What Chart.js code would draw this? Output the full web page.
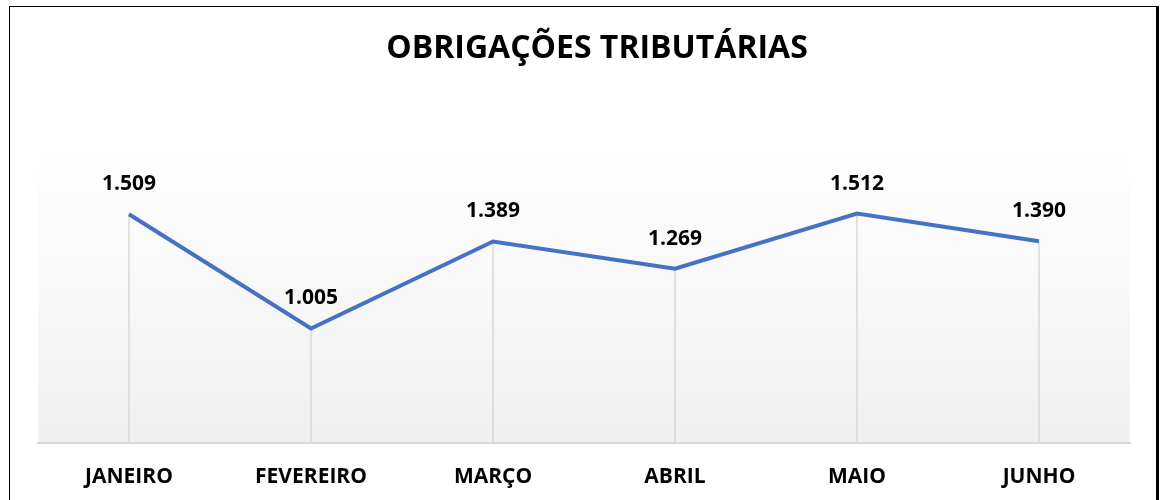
<!DOCTYPE html>
<html>
<head>
<meta charset="utf-8">
<title>Obrigações Tributárias</title>
<script src="https://cdn.jsdelivr.net/npm/chart.js@4.4.1/dist/chart.umd.min.js"></script>
<style>
	html, body { margin: 0; padding: 0; background: #fff; overflow: hidden; }
	/* canvas is a bit taller than the window; the bottom of the frame falls outside, as in the original */
	#wrap { position: absolute; left: 0; top: 0; width: 1163px; height: 500px; overflow: hidden; }
	#frame {
		position: absolute; left: 9px; top: 6px; width: 1146px; height: 520px;
		border-left: 1px solid #000; border-top: 1px solid #000; border-right: 3px solid #000;
		pointer-events: none;
	}
</style>
</head>
<body>
<div id="wrap">
	<canvas id="lineChart" width="1163" height="512"></canvas>
	<div id="frame"></div>
</div>
<script>
// DATA
const months = ['JANEIRO', 'FEVEREIRO', 'MARÇO', 'ABRIL', 'MAIO', 'JUNHO'];
const obrigacoes = [1509, 1005, 1389, 1269, 1512, 1390];
const chartTitle = 'OBRIGAÇÕES TRIBUTÁRIAS';

const fontFamily = "'Open Sans', 'DejaVu Sans', sans-serif";

// 1509 -> "1.509"
function formatNumber(v) {
	return String(v).replace(/\B(?=(\d{3})+(?!\d))/g, '.');
}

// gradient background behind the plot area
const areaBackground = {
	id: 'areaBackground',
	beforeDraw(chart) {
		const { ctx, chartArea } = chart;
		const grad = ctx.createLinearGradient(0, chartArea.top, 0, chartArea.bottom);
		grad.addColorStop(0, '#ffffff');
		grad.addColorStop(1, '#f0f0f0');
		ctx.save();
		ctx.fillStyle = grad;
		ctx.fillRect(chartArea.left, chartArea.top, chartArea.right - chartArea.left, chartArea.bottom - chartArea.top);
		ctx.restore();
	}
};

// vertical lines from each point down to the axis
const dropLines = {
	id: 'dropLines',
	beforeDatasetsDraw(chart) {
		const { ctx, chartArea } = chart;
		const meta = chart.getDatasetMeta(0);
		ctx.save();
		ctx.strokeStyle = '#d9d9d9';
		ctx.lineWidth = 1.5;
		meta.data.forEach(function(pt) {
			ctx.beginPath();
			ctx.moveTo(pt.x, pt.y);
			ctx.lineTo(pt.x, chartArea.bottom);
			ctx.stroke();
		});
		ctx.restore();
	}
};

// value labels above the points
const valueLabels = {
	id: 'valueLabels',
	afterDatasetsDraw(chart) {
		const { ctx } = chart;
		const meta = chart.getDatasetMeta(0);
		const values = chart.data.datasets[0].data;
		ctx.save();
		ctx.font = 'bold 21px ' + fontFamily;
		ctx.fillStyle = '#000';
		ctx.textAlign = 'center';
		ctx.textBaseline = 'middle';
		meta.data.forEach(function(pt, i) {
			ctx.fillText(formatNumber(values[i]), pt.x, pt.y - 30);
		});
		ctx.restore();
	}
};

const data = {
	labels: months,
	datasets: [{
		label: 'Obrigações',
		data: obrigacoes,
		borderColor: '#4472C4',
		borderWidth: 4,
		pointRadius: 0,
		tension: 0,
		fill: false
	}]
};

const config = {
	type: 'line',
	data: data,
	options: {
		responsive: false,
		animation: false,
		layout: {
			// right side is padded by the (invisible) y axis so the title sits like the original
			padding: { left: 38, right: 7, top: 25, bottom: 0 }
		},
		plugins: {
			legend: { display: false },
			tooltip: { enabled: false },
			title: {
				display: true,
				text: chartTitle,
				color: '#000',
				font: { family: fontFamily, size: 32, weight: 'bold' },
				padding: { top: 5, bottom: 80 }
			}
		},
		scales: {
			x: {
				offset: true,
				grid: { display: false, drawTicks: false },
				border: { display: true, color: '#d9d9d9', width: 2 },
				ticks: {
					color: '#000',
					padding: 22,
					font: { family: fontFamily, size: 21, weight: 'bold' }
				}
			},
			y: {
				display: true,
				position: 'right',
				min: 500,
				max: 1800,
				grid: { display: false },
				border: { display: false },
				ticks: { display: false },
				afterFit(scale) { scale.width = 26; }
			}
		}
	},
	plugins: [areaBackground, dropLines, valueLabels]
};

const lineChart = new Chart(document.getElementById('lineChart').getContext('2d'), config);
</script>
</body>
</html>
